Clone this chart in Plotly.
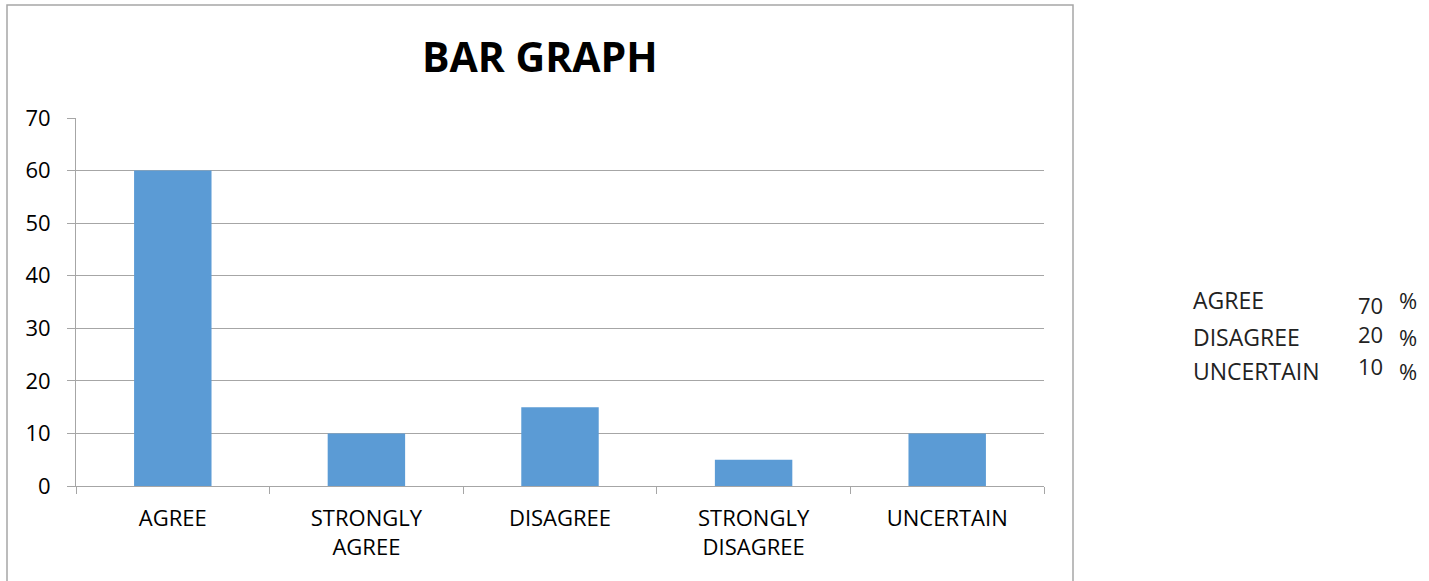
import plotly.graph_objects as go

categories = ["AGREE", "STRONGLY<br>AGREE", "DISAGREE", "STRONGLY<br>DISAGREE", "UNCERTAIN"]
values = [60, 10, 15, 5, 10]
side_labels = ["AGREE", "DISAGREE", "UNCERTAIN"]
side_values = ["70", "20", "10"]

W, H = 1429, 581
L, R, T, B = 76, 1044, 118, 486  # plot area pixel bounds

def px(x):
    return (x - L) / (R - L)

def py(y):
    return (B - y) / (B - T)

fig = go.Figure(go.Bar(x=categories, y=values, marker_color="#5B9BD5",
                       marker_line_width=0))

FONT = "Open Sans"
annotations = [
    dict(text="<b>BAR GRAPH</b>", x=px(540), y=py(56), xref="paper", yref="paper",
         showarrow=False, font=dict(family=FONT, size=41, color="#000"),
         xanchor="center", yanchor="middle"),
]
row_y = [300, 337, 371]
num_y = [305, 334, 366]
SF = 23
NF = 22
for lab, val, ry, ny in zip(side_labels, side_values, row_y, num_y):
    annotations.append(dict(text=lab, x=px(1191), y=py(ry), xref="paper", yref="paper",
                            showarrow=False, xanchor="left", yanchor="middle",
                            font=dict(family=FONT, size=SF, color="#222")))
    annotations.append(dict(text=val, x=px(1356), y=py(ny), xref="paper", yref="paper",
                            showarrow=False, xanchor="left", yanchor="middle",
                            font=dict(family=FONT, size=NF, color="#222")))
    annotations.append(dict(text="%", x=px(1397), y=py(ry), xref="paper", yref="paper",
                            showarrow=False, xanchor="left", yanchor="middle",
                            font=dict(family=FONT, size=NF, color="#222")))

fig.update_layout(
    width=W, height=H,
    margin=dict(l=L, r=W - R, t=T, b=H - B, pad=0),
    paper_bgcolor="white", plot_bgcolor="white",
    bargap=0.6,
    showlegend=False,
    annotations=annotations,
    shapes=[dict(type="rect", xref="paper", yref="paper",
                 x0=px(7), x1=px(1073), y0=py(620), y1=py(5),
                 line=dict(color="#A6A6A6", width=1.5), layer="below")],
    font=dict(family=FONT, color="#000"),
)
fig.update_xaxes(
    showline=True, linecolor="#A6A6A6", linewidth=1,
    ticks="outside", tickson="boundaries", ticklen=7, tickcolor="#A6A6A6",
    tickfont=dict(family=FONT, size=22, color="#000"),
    ticklabelstandoff=13,
    showgrid=False,
)
fig.update_yaxes(
    range=[0, 70], dtick=10,
    showline=True, linecolor="#A6A6A6", linewidth=1,
    ticks="outside", ticklen=8, tickcolor="#A6A6A6",
    showgrid=True, gridcolor="#A6A6A6", gridwidth=1,
    zeroline=False,
    ticklabelstandoff=12,
    tickfont=dict(family=FONT, size=22, color="#000"),
)

fig.write_html("out.html", config={"displayModeBar": False},
               post_script="document.body.style.margin='0';")
